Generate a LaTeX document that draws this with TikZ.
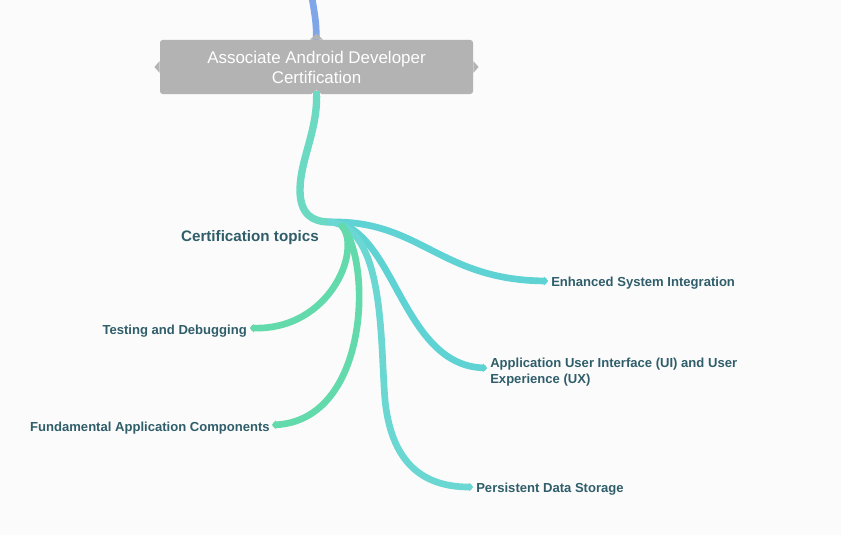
\documentclass[tikz,border=0pt]{standalone}
\usepackage{fontspec}
\setmainfont{Liberation Sans}
\usetikzlibrary{arrows.meta}
\definecolor{bg}{HTML}{FBFBFB}
\definecolor{boxgray}{HTML}{B3B3B3}
\definecolor{labelc}{HTML}{2F5E6A}
\definecolor{bluec}{HTML}{7EA6E9}
\definecolor{trunkc}{HTML}{6CD9C2}
\definecolor{cyanc}{HTML}{5FD2D4}
\definecolor{cyanb}{HTML}{6AD7D3}
\definecolor{greenc}{HTML}{62DAAB}
\tikzset{
  branch/.style={line width=5pt, line cap=round, -{Triangle[length=3pt,width=6.5pt]}},
  lab/.style={font=\bfseries\fontsize{9.8}{11.5}\selectfont, text=labelc, inner sep=0pt},
}
\begin{document}
\begin{tikzpicture}[x=0.75pt,y=-0.75pt]
\useasboundingbox (0,0) rectangle (841,535);
\fill[bg] (0,0) rectangle (841,535);
% blue incoming line
\coordinate (top) at (312,-2);
\coordinate (boxtop) at (316,40);
\draw[bluec, line width=5pt] (top) .. controls (315,15) and (317,28) .. (boxtop);
% main box
\node[fill=boxgray, rounded corners=2pt, minimum width=313*0.75pt, minimum height=54*0.75pt, inner sep=0pt,
  text=white, align=center, font=\fontsize{12.7}{15}\selectfont] (root) at (316.5,67)
  {Associate Android Developer\\Certification};
\fill[boxgray] ([yshift=-4.5pt]root.west) -- ([xshift=-4pt]root.west) -- ([yshift=4.5pt]root.west) -- cycle;
\fill[boxgray] ([yshift=-4.5pt]root.east) -- ([xshift=4pt]root.east) -- ([yshift=4.5pt]root.east) -- cycle;
\fill[boxgray] ([xshift=-5pt]root.north) -- ([yshift=4.5pt]root.north) -- ([xshift=5pt]root.north) -- cycle;
% trunk
\coordinate (hub) at (330,222);
\draw[trunkc, line width=5.5pt] ([yshift=1pt]root.south) .. controls (318,130) and (300,160) .. (300,190) .. controls (300,214) and (312,222) .. (hub);
\fill[bg] ([xshift=-4pt]root.south) -- ([yshift=3pt]root.south) -- ([xshift=4pt]root.south) -- ([xshift=4pt,yshift=-1pt]root.south) -- ([xshift=-4pt,yshift=-1pt]root.south) -- cycle;
\draw[trunkc, line width=5pt] ([yshift=2.5pt]root.south) -- ([yshift=-2pt]root.south);
% hub label
\node[lab, font=\bfseries\fontsize{11.4}{13}\selectfont, anchor=east] (topics) at (319,238) {Certification topics};
% endpoints
\coordinate (e1) at (548,281);
\coordinate (e2) at (487,368);
\coordinate (e3) at (473,487);
\coordinate (e4) at (250,328);
\coordinate (e5) at (272,425);
\coordinate (hubb) at (342,226);
% branches
\draw[branch, cyanc] (hub) .. controls (420,220) and (440,280) .. (e1);
\draw[branch, cyanc] (hub) .. controls (395,225) and (400,365) .. (e2);
\draw[branch, cyanb] (hub) .. controls (385,228) and (380,340) .. (385,400) .. controls (392,470) and (430,487) .. (e3);
\draw[branch, greenc] (hubb) .. controls (362,250) and (330,330) .. (e4);
\draw[branch, greenc] (hubb) .. controls (372,260) and (370,420) .. (e5);
% labels
\node[lab, anchor=west] (l1) at (551,283) {Enhanced System Integration};
\node[lab, anchor=west, align=left] (l2) at (490,372) {Application User Interface (UI) and User\\Experience (UX)};
\node[lab, anchor=west] (l3) at (476,489) {Persistent Data Storage};
\node[lab, anchor=east] (l4) at (247,331) {Testing and Debugging};
\node[lab, anchor=east] (l5) at (270,428) {Fundamental Application Components};
\end{tikzpicture}
\end{document}
